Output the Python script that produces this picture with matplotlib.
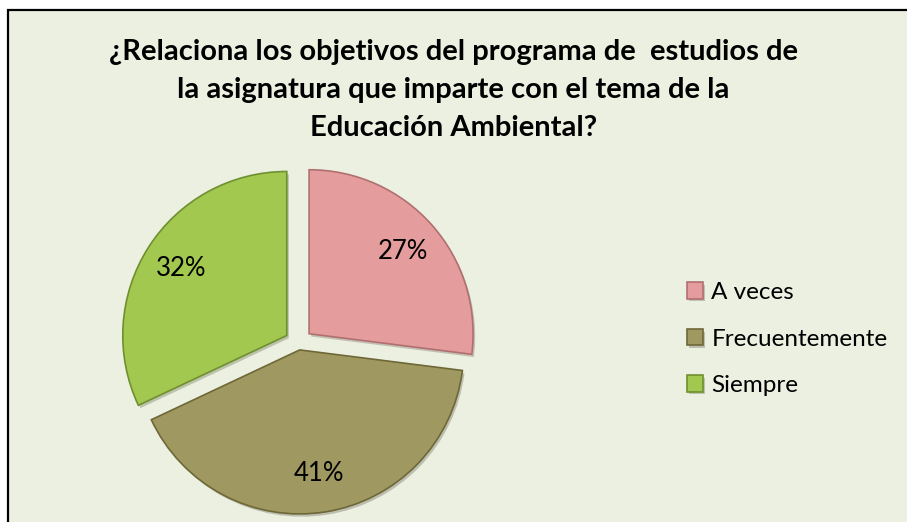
import matplotlib.pyplot as plt
import matplotlib.patheffects as pe
from matplotlib.patches import Rectangle

categorias = ["A veces", "Frecuentemente", "Siempre"]
porcentajes = [27, 41, 32]
colores = ["#e59c9c", "#9f9860", "#a2c84f"]
bordes = ["#b07070", "#6e6838", "#6f9030"]
titulo = ("¿Relaciona los objetivos del programa de  estudios de\n"
          "la asignatura que imparte con el tema de la\n"
          "Educación Ambiental?")

W, H = 907, 522
fig = plt.figure(figsize=(W / 100, H / 100), dpi=100)
fig.patch.set_facecolor("white")
ax = fig.add_axes([0, 0, 1, 1])
ax.axis("off")

# fondo del grafico con marco negro (sale por la derecha y abajo)
ax.add_patch(Rectangle((8, -20), 1000, H + 20 - 10, facecolor="#ecf0e0",
                       edgecolor="black", linewidth=1.6, zorder=0))

R = 164
# explode de matplotlib va en unidades de datos (aqui pixeles)
wedges, textos, autotextos = ax.pie(
    porcentajes, colors=colores, startangle=90, counterclock=False,
    explode=[14, 7, 14], radius=R, center=(298.6, H - 343),
    autopct="%d%%", pctdistance=0.76, frame=False,
    wedgeprops=dict(linewidth=1.2),
    textprops=dict(fontsize=18.5, family="Lato", color="black"))
for w, b in zip(wedges, bordes):
    w.set_edgecolor(b)
    w.set_path_effects([pe.SimplePatchShadow(offset=(1.5, -2), alpha=0.25),
                        pe.Normal()])

ax.set_xlim(0, W)
ax.set_ylim(0, H)
ax.set_aspect("auto")

fig.text(0.5, 1 - 90 / H, titulo, ha="center", va="center", fontsize=21,
         fontweight="bold", family="Lato", linespacing=1.55)

leg = ax.legend(wedges, categorias, loc="center left",
                bbox_to_anchor=(687 / W, 1 - 339 / H), bbox_transform=fig.transFigure,
                frameon=False, handlelength=0.65, handleheight=0.65,
                handletextpad=0.35, labelspacing=1.05, borderpad=0, borderaxespad=0,
                prop=dict(family="Lato", size=17.5))

fig.savefig("out.png", dpi=100, facecolor=fig.get_facecolor())
